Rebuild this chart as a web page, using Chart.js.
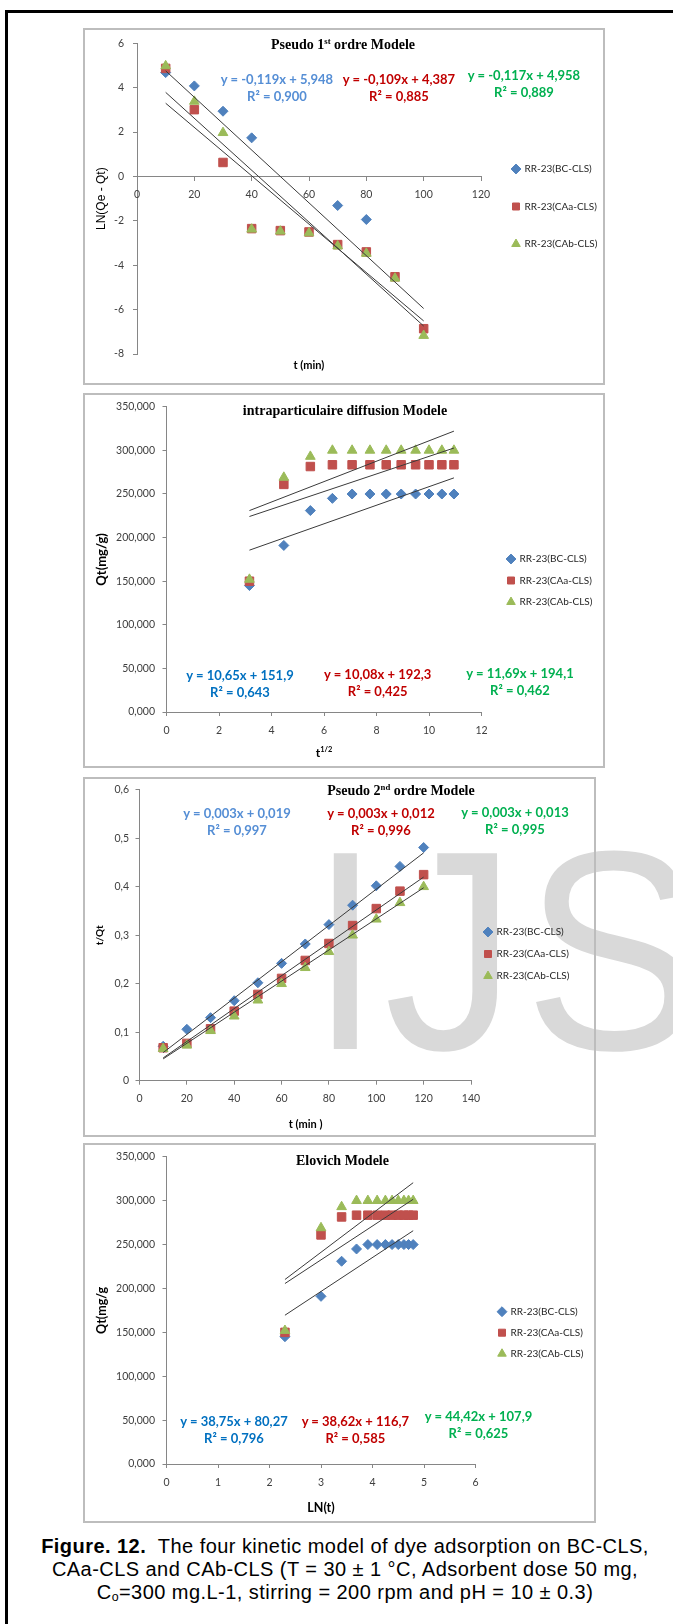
<!DOCTYPE html>
<html>
<head>
<meta charset="utf-8">
<script src="https://cdn.jsdelivr.net/npm/chart.js@4.4.1/dist/chart.umd.min.js"></script>
<style>
  html, body { margin: 0; padding: 0; width: 673px; height: 1624px; overflow: hidden; background: #fff; }
  #frame { position: absolute; left: 5px; top: 10px; width: 760px; height: 1700px; border: 3px solid #000; box-sizing: border-box; }
  .box { position: absolute; border: 2px solid #bdbdbd; box-sizing: border-box; }
  canvas { position: absolute; }
  .txt { position: absolute; white-space: nowrap; transform: translate(-50%, -50%); text-align: center; }
  .ttl { font-family: "Liberation Serif"; font-weight: bold; font-size: 14px; color: #000; }
  .eq { font-family: Lato; font-weight: bold; font-size: 13px; line-height: 17px; }
  .xt { font-family: Lato; font-weight: bold; font-size: 11px; color: #000; }
  sup { font-size: 0.62em; vertical-align: 0.55em; line-height: 0; }
  sub { font-size: 0.62em; vertical-align: -0.2em; line-height: 0; }
  .wm { position: absolute; font-family: "Liberation Sans"; font-weight: normal; font-size: 280px; line-height: 280px; color: #d9d9d9; white-space: nowrap; }
  #cap { position: absolute; left: 0; width: 690px; top: 1535px; font-family: Arial, "Liberation Sans"; font-size: 20px; letter-spacing: 0.45px; line-height: 23px; text-align: center; color: #000; }
</style>
</head>
<body>
<div id="frame"></div>
<div id="wmLayer"></div>
<div id="page"></div>
<div id="cap"><b>Figure. 12.</b>&nbsp; The four kinetic model of dye adsorption on BC-CLS,<br>CAa-CLS and CAb-CLS (T = 30 ± 1 °C, Adsorbent dose 50 mg,<br>C<sub>o</sub>=300 mg.L-1, stirring = 200 rpm and pH = 10 ± 0.3)</div>
<script>
// ---- data ----
const seriesNames = ['RR-23(BC-CLS)', 'RR-23(CAa-CLS)', 'RR-23(CAb-CLS)'];

// pseudo 1st order : LN(Qe - Qt) vs t (min)
const p1X_BC = [10, 20, 30, 40, 70, 80];
const p1Y_BC = [4.68, 4.08, 2.94, 1.74, -1.31, -1.94];
const p1X = [10, 20, 30, 40, 50, 60, 70, 80, 90, 100];
const p1Y_CAa = [4.87, 3.01, 0.63, -2.35, -2.44, -2.5, -3.07, -3.4, -4.52, -6.86];
const p1Y_CAb = [4.98, 3.38, 1.97, -2.38, -2.47, -2.55, -3.14, -3.47, -4.59, -7.17];

// Qt (mg/g), same for intraparticle and Elovich plots
const sqrtT = [3.16, 4.47, 5.48, 6.32, 7.07, 7.75, 8.37, 8.94, 9.49, 10, 10.49, 10.95];
const lnT = [2.30, 3.00, 3.40, 3.69, 3.91, 4.09, 4.25, 4.38, 4.50, 4.61, 4.70, 4.79];
const qtBC = [145, 191, 231, 245, 250, 250, 250, 250, 250, 250, 250, 250];
const qtCAa = [150, 261, 281.5, 283.5, 283.5, 283.5, 283.5, 283.5, 283.5, 283.5, 283.5, 283.5];
const qtCAb = [152, 269, 293, 300, 300, 300, 300, 300, 300, 300, 300, 300];

// pseudo 2nd order : t/Qt vs t (min)
const tMin = [10, 20, 30, 40, 50, 60, 70, 80, 90, 100, 110, 120];
const tqBC = [0.071, 0.106, 0.130, 0.165, 0.202, 0.242, 0.282, 0.322, 0.362, 0.402, 0.442, 0.481];
const tqCAa = [0.068, 0.077, 0.107, 0.1435, 0.178, 0.211, 0.248, 0.283, 0.320, 0.355, 0.391, 0.425];
const tqCAb = [0.066, 0.073, 0.103, 0.133, 0.166, 0.200, 0.233, 0.266, 0.300, 0.333, 0.367, 0.400];

// trendline end points (BC, CAa, CAb)
const tr1X = [10, 100];
const tr1Y = [[4.76, -5.95], [3.30, -6.51], [3.79, -6.74]];
const tr2X = [3.16, 10.95];
const tr2Y = [[185.6, 268.5], [224.2, 302.7], [231.0, 322.1]];
const tr3X = [10, 120];
const tr3Y = [[0.058, 0.470], [0.047, 0.420], [0.045, 0.398]];
const tr4X = [2.30, 4.79];
const tr4Y = [[169.5, 265.8], [205.6, 301.6], [210.2, 320.5]];

// equations shown on each plot
const eq1 = [['y = -0,119x + 5,948', 'R² = 0,900'], ['y = -0,109x + 4,387', 'R² = 0,885'], ['y = -0,117x + 4,958', 'R² = 0,889']];
const eq2 = [['y = 10,65x + 151,9', 'R² = 0,643'], ['y = 10,08x + 192,3', 'R² = 0,425'], ['y = 11,69x + 194,1', 'R² = 0,462']];
const eq3 = [['y = 0,003x + 0,019', 'R² = 0,997'], ['y = 0,003x + 0,012', 'R² = 0,996'], ['y = 0,003x + 0,013', 'R² = 0,995']];
const eq4 = [['y = 38,75x + 80,27', 'R² = 0,796'], ['y = 38,62x + 116,7', 'R² = 0,585'], ['y = 44,42x + 107,9', 'R² = 0,625']];

// ---- styling / layout ----
const markColors = ['#4F81BD', '#C0504D', '#9BBB59'];
const markShapes = ['rectRot', 'rect', 'triangle'];
const markRadius = [5, 6, 5.6];
const LEG_FS = 10, BW = 7;
const tickFont = { family: 'Lato', size: 10.5 };

function pts(xs, ys) { return xs.map((x, i) => ({ x: x, y: ys[i] })); }

const mctx = document.createElement('canvas').getContext('2d');
function measure(txt, font) { mctx.font = font; return mctx.measureText(txt); }

function addText(html, cls, cx, cy, color) {
  const d = document.createElement('div');
  d.className = 'txt ' + cls;
  d.innerHTML = html;
  d.style.left = cx + 'px';
  d.style.top = cy + 'px';
  if (color) d.style.color = color;
  document.getElementById('page').appendChild(d);
  return d;
}

// watermark "IJS": letters fitted to the ink boxes seen in the figure
function watermark() {
  const font = '280px "Liberation Sans"';
  const capTop = 849, base = 1049;
  const mI = measure('I', font), mJ = measure('J', font);
  const sy = (base - capTop) / mI.actualBoundingBoxAscent;
  const asc = mI.fontBoundingBoxAscent, desc = mI.fontBoundingBoxDescent;
  const baseOff = (280 - (asc + desc)) / 2 + asc;
  const sJ = (500 - 388) / (mJ.actualBoundingBoxLeft + mJ.actualBoundingBoxRight);
  const sI = (357 - 330) / (mI.actualBoundingBoxLeft + mI.actualBoundingBoxRight);
  [['I', 330, sI], ['J', 388, sJ], ['S', 532, sJ]].forEach(([ch, inkLeft, sx]) => {
    const m = measure(ch, font);
    const d = document.createElement('div');
    d.className = 'wm';
    d.textContent = ch;
    d.style.left = (inkLeft + m.actualBoundingBoxLeft * sx) + 'px';
    d.style.top = (base - baseOff) + 'px';
    d.style.transformOrigin = '0 ' + baseOff + 'px';
    d.style.transform = 'scale(' + sx + ',' + sy + ')';
    document.getElementById('wmLayer').appendChild(d);
  });
}
watermark();

function makePlot(g) {
  const [bx, by, bw, bh] = g.box;
  const box = document.createElement('div');
  box.className = 'box';
  Object.assign(box.style, { left: bx + 'px', top: by + 'px', width: bw + 'px', height: bh + 'px' });
  document.getElementById('page').appendChild(box);

  const W = bw + 80, H = bh;
  const cv = document.createElement('canvas');
  cv.width = W; cv.height = H;
  cv.style.left = bx + 'px'; cv.style.top = by + 'px';
  document.getElementById('page').appendChild(cv);

  // pixel geometry inside the canvas
  const aL = g.area[0] - bx, aR = g.area[1] - bx, aT = g.area[2] - by, aB = g.area[3] - by;
  const P = g.leg[2] - LEG_FS;
  const gap = Math.max(0, (g.leg[0] - bx) - aR - P - BW / 2);
  const maxText = Math.max(...seriesNames.map(s => measure(s, LEG_FS + 'px Lato').width));
  const legendW = P + BW + LEG_FS / 2 + maxText + 10;
  const padRight = W - aR - gap - legendW;
  const padBottom = H - aB - g.xAxisH;
  const legTitle = (g.leg[1] - by) - aT - P - LEG_FS / 2;
  const yFs = g.yTitleFont.size;

  const datasets = [];
  g.series.forEach((s, i) => {
    datasets.push({
      label: seriesNames[i], data: pts(s[0], s[1]), yAxisID: 'y', xAxisID: 'x',
      pointStyle: markShapes[i], pointRadius: markRadius[i],
      backgroundColor: markColors[i], borderColor: markColors[i], borderWidth: 1,
      showLine: false, order: 3 - i
    });
  });
  g.trend[1].forEach((ys, i) => {
    datasets.push({
      label: 'trend' + i, data: pts(g.trend[0], ys), yAxisID: 'y', xAxisID: 'x',
      showLine: true, pointRadius: 0, borderColor: '#3a3a3a', borderWidth: 1, order: 0
    });
  });

  new Chart(cv, {
    type: 'scatter',
    data: { datasets: datasets },
    options: {
      responsive: false, animation: false, devicePixelRatio: 1, events: [],
      layout: { padding: { left: 0, top: aT, right: padRight, bottom: padBottom } },
      scales: {
        y: {
          type: 'linear', position: 'left', min: g.y[0], max: g.y[1],
          ticks: { stepSize: g.y[2], callback: g.yFmt, font: tickFont, color: '#404040', padding: g.area[0] - g.yLblR - 4 },
          grid: { drawOnChartArea: false, drawTicks: true, tickLength: 4, color: '#868686' },
          border: { color: '#868686' },
          title: { display: true, text: g.yTitle, font: g.yTitleFont, color: '#000',
                   padding: { top: g.yTitleX - bx - yFs * 0.6, bottom: 0 } },
          afterFit: s => { s.width = aL; }
        },
        gap: {
          type: 'linear', position: 'right', display: true,
          grid: { display: false }, border: { display: false }, ticks: { display: false },
          afterFit: s => { s.width = gap; }
        },
        x: {
          type: 'linear', position: g.xAt0 ? { y: 0 } : 'bottom', min: g.x[0], max: g.x[1],
          ticks: { stepSize: g.x[2], callback: v => String(v), font: tickFont, color: '#404040', padding: 8, maxRotation: 0 },
          grid: { drawOnChartArea: false, drawTicks: true, tickLength: 4, color: '#868686' },
          border: { color: '#868686' },
          afterFit: s => { s.height = g.xAxisH; }
        }
      },
      plugins: {
        tooltip: { enabled: false },
        legend: {
          position: 'right', align: 'start', maxWidth: 300,
          title: { display: true, text: '', font: { size: 1, lineHeight: 1 }, padding: { top: legTitle - 1, bottom: 0 } },
          labels: {
            usePointStyle: true, boxWidth: BW, boxHeight: BW, padding: P,
            font: { family: 'Lato', size: LEG_FS }, color: '#262626',
            filter: it => it.datasetIndex < 3,
            sort: (a, b) => a.datasetIndex - b.datasetIndex
          }
        }
      }
    }
  });

  addText(g.title[0], 'ttl', g.title[1], g.title[2]);
  const xt = addText(g.xTitle[0], 'xt', g.xTitle[1], g.xTitle[2]);
  if (g.xTitle[3]) xt.style.fontSize = g.xTitle[3] + 'px';
  g.eqs.forEach((e, i) => {
    addText(g.eqText[i][0] + '<br>' + g.eqText[i][1], 'eq', e[0], e[1], g.eqColors[i]);
  });
}

const fmt3 = v => v.toFixed(3).replace('.', ',');
const fmt1 = v => (v === 0 ? '0' : v.toFixed(1).replace('.', ','));

makePlot({
  box: [83, 28, 522, 357], area: [137, 481, 40, 354], leg: [516, 169, 37.5],
  yTitleX: 102, yLblR: 124, xAxisH: 0, xAt0: true,
  x: [0, 120, 20], y: [-8, 6, 2], yFmt: v => String(v),
  yTitle: 'LN(Qe - Qt)', yTitleFont: { family: 'Liberation Sans', size: 12 },
  series: [[p1X_BC, p1Y_BC], [p1X, p1Y_CAa], [p1X, p1Y_CAb]], trend: [tr1X, tr1Y],
  title: ['Pseudo 1<sup>st</sup> ordre Modele', 343, 45],
  xTitle: ['t (min)', 309, 364],
  eqText: eq1, eqColors: ['#558ED5', '#C00000', '#00B050'], eqs: [[277, 87.5], [399, 87.5], [524, 84]]
});
makePlot({
  box: [83, 393, 522, 375], area: [166.5, 481.5, 405, 712], leg: [511, 559, 21.5],
  yTitleX: 102, yLblR: 155, xAxisH: 30, xAt0: false,
  x: [0, 12, 2], y: [0, 350, 50], yFmt: fmt3,
  yTitle: 'Qt(mg/g)', yTitleFont: { family: 'Lato', size: 13, weight: 'bold' },
  series: [[sqrtT, qtBC], [sqrtT, qtCAa], [sqrtT, qtCAb]], trend: [tr2X, tr2Y],
  title: ['intraparticulaire diffusion Modele', 345, 410.7],
  xTitle: ['t<sup>1/2</sup>', 324, 752, 12],
  eqText: eq2, eqColors: ['#0070C0', '#C00000', '#00B050'], eqs: [[240, 684], [377.7, 683], [520, 682]]
});
makePlot({
  box: [83, 777, 513, 360], area: [139.5, 471, 789.3, 1080.7], leg: [488, 932, 22],
  yTitleX: 99.6, yLblR: 129, xAxisH: 30, xAt0: false,
  x: [0, 140, 20], y: [0, 0.6, 0.1], yFmt: fmt1,
  yTitle: 't/Qt', yTitleFont: { family: 'Lato', size: 10, weight: 'bold' },
  series: [[tMin, tqBC], [tMin, tqCAa], [tMin, tqCAb]], trend: [tr3X, tr3Y],
  title: ['Pseudo 2<sup>nd</sup> ordre Modele', 401, 790.7],
  xTitle: ['t (min )', 305.6, 1122.7],
  eqText: eq3, eqColors: ['#558ED5', '#C00000', '#00B050'], eqs: [[237, 822], [381, 822], [515, 821]]
});
makePlot({
  box: [83, 1143, 513, 380], area: [166.5, 475.5, 1154, 1464], leg: [502, 1311.7, 21],
  yTitleX: 101.7, yLblR: 155, xAxisH: 30, xAt0: false,
  x: [0, 6, 1], y: [0, 350, 50], yFmt: fmt3,
  yTitle: 'Qt(mg/g', yTitleFont: { family: 'Lato', size: 12.5, weight: 'bold' },
  series: [[lnT, qtBC], [lnT, qtCAa], [lnT, qtCAb]], trend: [tr4X, tr4Y],
  title: ['Elovich Modele', 342.5, 1160.7],
  xTitle: ['LN(t)', 321, 1507.3, 12.5],
  eqText: eq4, eqColors: ['#0070C0', '#C00000', '#00B050'], eqs: [[234, 1429.5], [355.4, 1429.5], [478.5, 1424.7]]
});
</script>
</body>
</html>
